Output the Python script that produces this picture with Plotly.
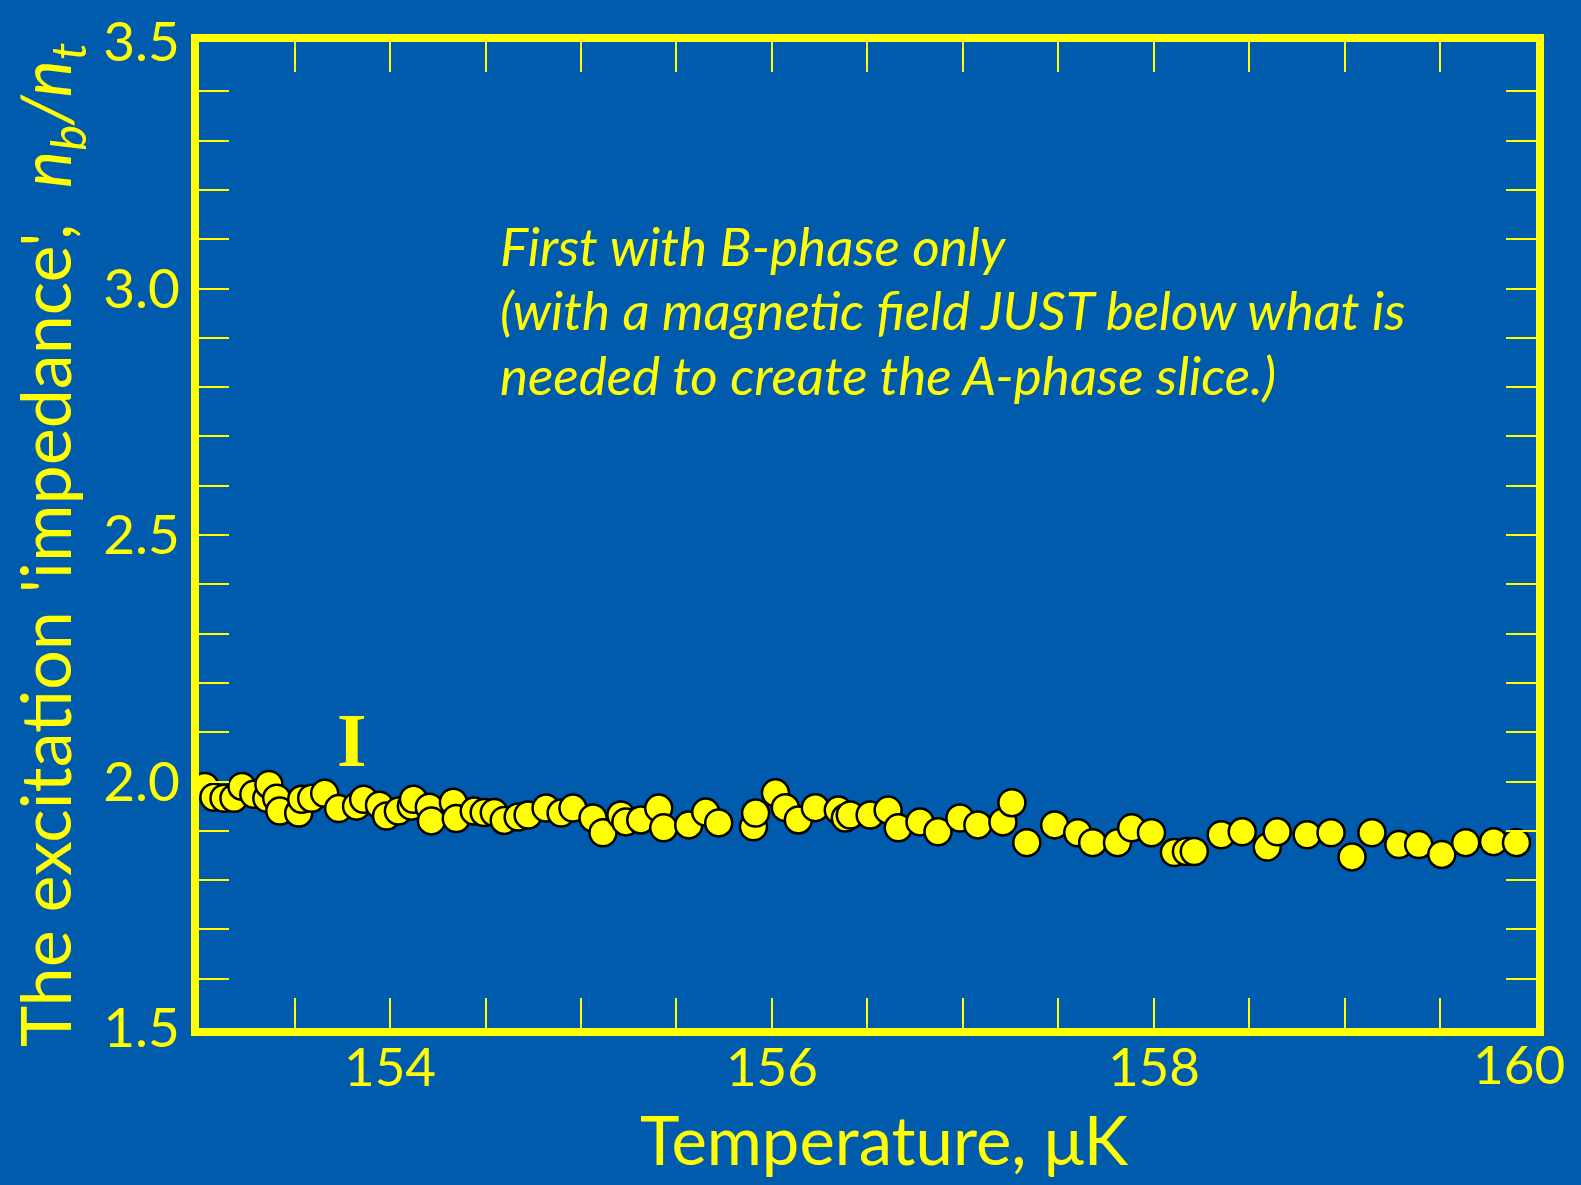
import plotly.graph_objects as go

temperature_uK = [
    153.031, 153.078, 153.131, 153.183, 153.225, 153.287, 153.355, 153.366, 153.407, 153.423,
    153.522, 153.538, 153.590, 153.658, 153.731, 153.825, 153.862, 153.945, 153.982, 154.044,
    154.112, 154.123, 154.206, 154.217, 154.332, 154.347, 154.441, 154.493, 154.546, 154.598,
    154.671, 154.723, 154.817, 154.896, 154.958, 155.063, 155.115, 155.209, 155.235, 155.313,
    155.407, 155.433, 155.564, 155.653, 155.721, 155.903, 155.914, 156.018, 156.070, 156.138,
    156.227, 156.347, 156.384, 156.410, 156.514, 156.608, 156.661, 156.775, 156.869, 156.984,
    157.078, 157.209, 157.256, 157.334, 157.480, 157.601, 157.679, 157.809, 157.883, 157.987,
    158.107, 158.170, 158.211, 158.352, 158.462, 158.593, 158.645, 158.802, 158.927, 159.037,
    159.141, 159.282, 159.386, 159.507, 159.632, 159.778, 159.898,
]
impedance = [
    1.990, 1.968, 1.966, 1.966, 1.990, 1.974, 1.966, 1.994, 1.966, 1.940,
    1.936, 1.964, 1.966, 1.976, 1.945, 1.950, 1.964, 1.952, 1.930, 1.940,
    1.950, 1.964, 1.948, 1.920, 1.958, 1.925, 1.940, 1.937, 1.937, 1.921,
    1.928, 1.932, 1.946, 1.936, 1.946, 1.926, 1.896, 1.932, 1.918, 1.922,
    1.946, 1.906, 1.912, 1.938, 1.916, 1.908, 1.936, 1.977, 1.947, 1.922,
    1.947, 1.942, 1.926, 1.932, 1.932, 1.942, 1.906, 1.918, 1.898, 1.926,
    1.912, 1.918, 1.957, 1.876, 1.912, 1.896, 1.876, 1.876, 1.906, 1.896,
    1.856, 1.858, 1.858, 1.892, 1.898, 1.867, 1.898, 1.892, 1.896, 1.847,
    1.896, 1.872, 1.872, 1.852, 1.876, 1.878, 1.876,
]

x_tick_vals = [153.5, 154.0, 154.5, 155.0, 155.5, 156.0, 156.5, 157.0, 157.5, 158.0, 158.5, 159.0, 159.5, 160.0]
x_tick_text = ["", "154", "", "", "", "156", "", "", "", "158", "", "", "", "160"]
y_tick_vals = [1.5, 1.6, 1.7, 1.8, 1.9, 2.0, 2.1, 2.2, 2.3, 2.4, 2.5, 2.6, 2.7, 2.8, 2.9, 3.0,
               3.1, 3.2, 3.3, 3.4, 3.5]
y_tick_text = ["1.5", "", "", "", "", "2.0", "", "", "", "", "2.5", "", "", "", "", "3.0",
               "", "", "", "", "3.5"]

note_lines = [
    "First with B-phase only",
    "(with a magnetic field JUST below what is",
    "needed to create the A-phase slice.)",
]

BLUE = "#005BAC"
YELLOW = "#FFFF00"
XFONT = dict(family="Lato", size=53, color=YELLOW)

fig = go.Figure()
fig.add_trace(go.Scatter(
    x=temperature_uK, y=impedance, mode="markers",
    marker=dict(size=27, color=YELLOW, line=dict(color="black", width=2.5)),
    cliponaxis=True, showlegend=False,
))

axis_common = dict(
    showline=True, linewidth=8, linecolor=YELLOW, mirror="ticks",
    ticks="inside", ticklen=30, tickwidth=2, tickcolor=YELLOW,
    showgrid=False, zeroline=False, ticklabeloverflow="allow", automargin=False,
)
# the last label (at the right frame edge) is drawn as an annotation, nudged inward
axis_ticktext = x_tick_text[:-1] + [""]
fig.update_xaxes(range=[153, 160.0001], tickmode="array", tickvals=x_tick_vals,
                 ticktext=axis_ticktext, ticklabelstandoff=-14,
                 tickfont=XFONT, **axis_common)
fig.update_yaxes(range=[1.5, 3.5], tickmode="array", tickvals=y_tick_vals,
                 ticktext=y_tick_text,
                 tickfont=dict(family="Lato", size=55, color=YELLOW), **axis_common)

annotations = [
    dict(text=x_tick_text[-1], x=x_tick_vals[-1], xref="x", yref="paper", y=-0.0365,
         xanchor="center", yanchor="middle", xshift=-17, showarrow=False, font=XFONT),
    dict(text="Temperature, μK", xref="paper", yref="paper", x=0.513, y=-0.113,
         xanchor="center", yanchor="middle", showarrow=False,
         font=dict(family="Lato", size=67, color=YELLOW)),
    dict(text="The excitation 'impedance',  <i>n<sub>b</sub>/n<sub>t</sub></i>",
         xref="paper", yref="paper", x=-0.112, y=0.49, textangle=-90,
         xanchor="center", yanchor="middle", showarrow=False,
         font=dict(family="Lato", size=70, color=YELLOW)),
    dict(text="<b>I</b>", x=153.80, y=2.085, xanchor="center", yanchor="middle",
         showarrow=False, font=dict(family="Liberation Serif", size=76, color=YELLOW)),
]
for i, line in enumerate(note_lines):
    annotations.append(dict(
        text="<i>" + line + "</i>", xref="paper", yref="y", x=0.2235, y=3.088 - i * 0.131,
        xanchor="left", yanchor="middle", showarrow=False,
        font=dict(family="Lato", size=53, color=YELLOW)))

fig.update_layout(
    width=1581, height=1185,
    margin=dict(l=199, r=45, t=42, b=157, autoexpand=False),
    paper_bgcolor=BLUE, plot_bgcolor=BLUE,
    annotations=annotations,
)

fig.write_html("out.html")
